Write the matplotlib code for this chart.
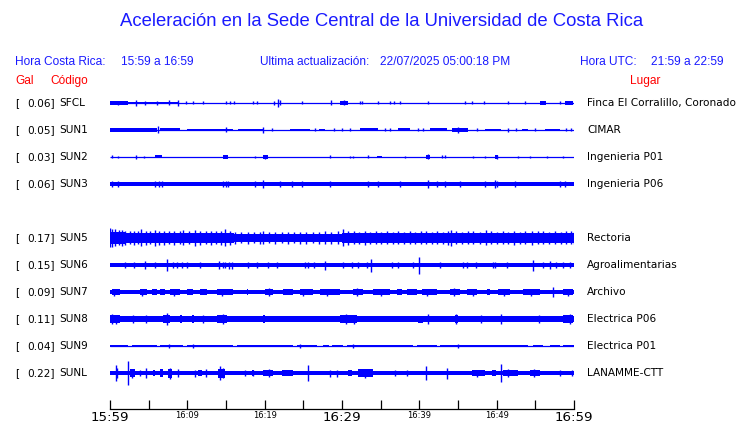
import matplotlib
matplotlib.use('Agg')
import matplotlib.pyplot as plt

# Estaciones (de arriba hacia abajo)
codes = ['SFCL', 'SUN1', 'SUN2', 'SUN3', 'SUN5', 'SUN6', 'SUN7', 'SUN8', 'SUN9', 'SUNL']
gals = [0.06, 0.05, 0.03, 0.06, 0.17, 0.15, 0.09, 0.11, 0.04, 0.22]
places = ['Finca El Corralillo, Coronado', 'CIMAR', 'Ingenieria P01', 'Ingenieria P06',
          'Rectoria', 'Agroalimentarias', 'Archivo', 'Electrica P06', 'Electrica P01', 'LANAMME-CTT']
row_slot = [0, 1, 2, 3, 5, 6, 7, 8, 9, 10]   # SUN4 no aparece -> hueco

# eje de tiempo (minutos desde 15:59)
tick_minutes = list(range(0, 61, 5))
tick_labels = ['15:59', '', '16:09', '', '16:19', '', '16:29', '', '16:39', '', '16:49', '', '16:59']
big_labels = ['15:59', '16:29', '16:59']

# Trazas: bandas (inicio, fin, semi-amplitud) y picos (minuto, semi-amplitud)
sfcl_bands = [(0, 2.3, 1.8), (2.3, 8.8, 1.2), (29.8, 30.8, 2.0), (55.6, 56.4, 1.8), (58.9, 59.9, 1.6)]
sfcl_spikes = [(1.0, 2.2), (3.4, 3), (4.5, 2), (6.1, 2.2), (7.6, 2.5), (8.8, 3), (9.8, 1.5), (10.7, 1.5),
               (12.0, 1.5), (15.0, 1.5), (15.5, 1.5), (16.0, 1.5), (18.5, 1.5), (19.0, 1.5), (21.2, 2),
               (21.7, 4), (22.0, 2.5), (24.8, 1.5), (28.6, 2.5), (30.3, 2.5), (32.3, 1.5), (32.6, 1.5),
               (34.7, 1.5), (36.2, 1.5), (36.7, 1.5), (37.5, 1.5), (41.1, 1.5), (45.9, 1.5), (46.8, 1.5),
               (48.4, 1.5), (51.5, 1.5), (53.6, 1.5), (58.2, 1.5)]

sun1_bands = [(0, 6.1, 1.8), (6.5, 9.1, 1.5), (10, 15.9, 1.3), (16.6, 19.8, 1.3), (23.3, 25.9, 1.0),
              (27.0, 27.8, 1.2), (32.3, 34.7, 1.5), (37.3, 38.8, 1.5), (41.4, 43.6, 1.5), (44.2, 46.3, 2.2),
              (48.5, 50.5, 1.3), (53.3, 54.0, 1.3), (56.3, 58.2, 1.3)]
sun1_spikes = [(6.2, 3.5), (15.0, 2.5), (19.8, 3.0), (21.0, 1.5), (26.5, 1.5), (29.0, 1.5), (30.0, 1.5),
               (31.0, 1.5), (35.5, 1.5), (36.2, 1.5), (39.8, 1.5), (40.5, 1.5), (45.0, 2.8), (47.5, 1.5),
               (51.5, 2.0), (52.5, 1.5), (55.0, 1.5), (59.0, 1.5), (59.6, 1.5)]

sun2_bands = [(5.8, 6.7, 1.5), (14.6, 15.3, 1.8), (19.8, 20.4, 2.0), (34.5, 35.2, 1.3), (40.8, 41.4, 2.0),
              (49.8, 50.2, 2.0)]
sun2_spikes = [(0.3, 1.5), (1.0, 1.3), (3.4, 1.8), (4.4, 1.3), (18.8, 1.3), (20.1, 2.3), (28.5, 1.5),
               (31.0, 1.3), (31.4, 1.3), (33.4, 1.5), (38.2, 1.3), (41.1, 2.5), (42.9, 1.5), (43.3, 1.5),
               (47.0, 1.3), (48.5, 1.3), (50.0, 2.3), (52.8, 1.3), (54.3, 1.3), (56.5, 1.3), (58.6, 1.3)]

sun3_bands = [(0, 60, 2.0), (58.2, 60, 2.4)]
sun3_spikes = [(0.3, 2.6), (1.0, 2.6), (5.8, 3), (6.3, 3), (6.7, 2.8), (14.6, 3.2), (15.0, 3.2), (15.3, 3),
               (18.8, 2.8), (19.8, 3.8), (22.0, 2.6), (23.5, 2.6), (24.8, 2.6), (28.5, 2.6), (33.4, 2.6),
               (34.7, 2.8), (37.5, 2.6), (41.1, 3.6), (42.3, 3.0), (43.3, 2.6), (45.3, 2.6), (48.5, 2.6),
               (49.8, 4.2), (50.1, 3.0), (52.4, 2.6), (58.2, 2.6), (58.9, 2.6)]

sun5_bands = [(0, 2, 6.0), (2, 16, 4.8), (16, 30, 4.3), (30, 60, 4.6)]
sun5_spikes = [(0.0, 9.5), (0.3, 9.0), (0.7, 8.5), (1.1, 7.5), (1.5, 8.0), (2.0, 7.0), (2.6, 6.5), (3.1, 7.0),
               (3.6, 6.5), (4.0, 8.5), (4.6, 7.0), (5.2, 6.5), (5.8, 8.0), (6.4, 7.0), (7.0, 7.0), (7.6, 6.5),
               (8.3, 7.0), (9.0, 6.5), (9.5, 7.5), (10.2, 6.5), (11.0, 8.0), (11.7, 7.0), (12.4, 6.5),
               (13.0, 7.0), (13.7, 6.5), (14.4, 7.0), (14.9, 8.5), (15.5, 7.0), (16.2, 6.0), (17.0, 5.5),
               (17.8, 6.0), (18.6, 5.5), (19.4, 6.0), (19.8, 6.5), (20.6, 5.5), (21.4, 6.0), (22.2, 5.5),
               (23.0, 6.0), (23.8, 5.5), (24.6, 6.0), (25.4, 6.0), (26.2, 5.5), (27.0, 6.0), (27.8, 6.5),
               (28.6, 6.0), (29.5, 6.5), (30.1, 8.5), (30.8, 7.0), (31.5, 6.5), (32.2, 6.0), (33.0, 7.0),
               (33.6, 6.0), (34.4, 6.5), (35.1, 6.0), (35.8, 6.5), (36.6, 6.0), (37.3, 6.5), (38.0, 6.0),
               (38.8, 6.5), (39.5, 6.0), (40.2, 6.5), (40.9, 6.5), (41.6, 6.0), (42.3, 6.5), (43.0, 6.0),
               (43.7, 7.0), (44.1, 8.0), (44.8, 6.5), (45.5, 6.0), (46.3, 6.5), (47.0, 6.5), (47.8, 6.0),
               (48.6, 7.5), (49.3, 6.5), (50.0, 6.0), (50.8, 6.5), (51.5, 6.0), (52.2, 7.0), (53.0, 6.0),
               (53.7, 6.5), (54.6, 7.0), (55.3, 6.5), (56.0, 6.5), (56.8, 6.0), (57.5, 6.5), (58.3, 6.0),
               (59.0, 6.5), (59.6, 6.5), (60.0, 6.0)]

sun6_bands = [(0, 60, 2.2)]
sun6_spikes = [(1.9, 3), (3.1, 3), (4.5, 4.3), (5.8, 3), (7.4, 6), (8.2, 3.3), (8.6, 3.3), (9.3, 3),
               (9.96, 3.3), (11.6, 3), (14.1, 4), (14.6, 3), (14.9, 3), (15.4, 3.5), (15.8, 3.5), (17.9, 3),
               (19.0, 3.3), (20.4, 3), (21.6, 3), (25.2, 3.3), (25.6, 3.3), (26.4, 3.3), (27.8, 4.5),
               (30.1, 3), (31.3, 3.3), (32.1, 3.3), (33.2, 3.3), (33.8, 6.5), (36.5, 3), (37.3, 3),
               (39.2, 3.3), (39.97, 8.5), (42.7, 3), (45.7, 3), (46.1, 3), (47.3, 3), (49.5, 3.3),
               (49.8, 3.3), (51.4, 3), (54.7, 5.5), (56.0, 3), (56.9, 3.8), (57.7, 3.3), (58.6, 3.3),
               (59.5, 3.3)]

sun7_bands = [(0, 60, 2.0), (0.3, 1.3, 2.9), (3.9, 4.8, 2.9), (5.4, 6.1, 2.9), (6.5, 7.1, 2.9),
              (7.8, 9.1, 2.9), (10.0, 10.7, 2.9), (11.6, 12.5, 2.9), (13.8, 15.9, 2.9), (17.7, 17.9, 2.9),
              (20.1, 21.1, 3.3), (22.4, 23.7, 2.9), (24.6, 26.3, 2.9), (27.2, 29.8, 2.9), (31.4, 32.7, 3.3),
              (34.0, 36.2, 2.9), (37.1, 37.8, 3.1), (38.4, 39.7, 2.9), (40.4, 42.3, 2.9), (44.0, 45.3, 3.3),
              (46.2, 47.5, 2.9), (48.8, 49.2, 2.9), (50.2, 51.7, 2.9), (53.4, 55.6, 2.9), (58.6, 59.9, 2.9)]
sun7_spikes = [(0.5, 3.5), (4.2, 3.5), (8.3, 3.5), (14.5, 3.5), (20.5, 4), (25.0, 3.5), (28.0, 3.5),
               (32.0, 4), (35.0, 3.5), (41.0, 3.5), (44.5, 4.2), (47.0, 3.5), (51.0, 3.5), (54.5, 3.5),
               (57.3, 4.8), (59.2, 3.5)]

sun8_bands = [(0, 60, 2.6), (0, 1.3, 4.0), (2.2, 5.6, 3.2), (6.9, 7.8, 4.2), (9.1, 9.3, 3.6), (10.6, 10.8, 3.8),
              (11.6, 12.5, 3.3), (13.8, 15.1, 3.6), (16.0, 16.8, 3.1), (19.8, 20.0, 3.6), (21.6, 22.4, 3.1),
              (24.6, 24.8, 3.1), (26.8, 27.0, 3.1), (28.8, 29.8, 3.4), (29.8, 32.0, 3.8), (34.7, 34.9, 3.1),
              (39.8, 40.5, 3.5), (44.6, 45.0, 3.8), (46.6, 49.2, 3.2), (50.5, 50.7, 3.8), (50.8, 52.7, 3.2),
              (54.3, 56.5, 3.3), (58.6, 59.9, 3.7)]
sun8_spikes = [(0.3, 5.2), (0.8, 4.5), (3.0, 4.0), (4.6, 4.0), (7.4, 6.2), (12.0, 4.0), (14.6, 4.8),
               (30.5, 5.0), (31.5, 4.5), (41.1, 5.2), (44.8, 4.8), (48.0, 4.0), (50.5, 4.8), (55.5, 4.2),
               (59.5, 4.8)]

sun9_bands = [(0, 2.3, 1.2), (2.8, 6.1, 1.2), (6.5, 9.4, 1.2), (10.0, 15.9, 1.2), (16.4, 23.7, 1.2),
              (24.2, 26.8, 1.2), (27.6, 28.3, 1.2), (28.7, 30.1, 1.2), (30.7, 39.2, 1.2), (39.7, 42.3, 1.2),
              (42.7, 54.0, 1.2), (54.7, 56.0, 1.2), (56.9, 58.2, 1.2), (58.6, 60, 1.2)]
sun9_spikes = [(7.6, 1.8), (10.7, 1.8), (24.6, 1.8), (31.4, 1.8), (45.0, 1.6)]

sunl_bands = [(0, 60, 2.3), (2.6, 3.2, 4.0), (5.5, 5.8, 3.1), (6.5, 6.9, 3.8), (7.5, 8.0, 4.5),
              (11.4, 11.9, 3.1), (14.0, 14.9, 4.5), (18.4, 18.6, 2.8), (19.8, 21.1, 3.3), (22.3, 23.7, 3.0),
              (30.8, 31.3, 3.4), (32.1, 34.0, 3.8), (46.8, 48.5, 3.0), (49.4, 49.9, 3.4), (50.8, 52.7, 3.4),
              (54.3, 55.6, 3.2)]
sunl_spikes = [(0.8, 8.3), (0.9, 5), (2.3, 12), (2.9, 4.5), (3.9, 3), (4.7, 5), (7.8, 5.5), (8.8, 4),
               (11.0, 3.5), (12.4, 4), (14.2, 7), (14.6, 5), (17.5, 3), (18.5, 3.3), (20.5, 4), (25.6, 8.3),
               (28.5, 3.5), (29.4, 3.5), (33.0, 4.5), (36.9, 3), (38.4, 3), (40.8, 6.7), (43.6, 5.5),
               (47.5, 3.5), (50.6, 9), (51.5, 4), (54.8, 3.8), (58.2, 3), (59.7, 3)]

all_bands = [sfcl_bands, sun1_bands, sun2_bands, sun3_bands, sun5_bands,
             sun6_bands, sun7_bands, sun8_bands, sun9_bands, sunl_bands]
all_spikes = [sfcl_spikes, sun1_spikes, sun2_spikes, sun3_spikes, sun5_spikes,
              sun6_spikes, sun7_spikes, sun8_spikes, sun9_spikes, sunl_spikes]

# Estilos
AZUL = '#0000ff'
AZUL_TXT = '#1a1aff'
ROJO = '#ff0000'
ROW_H = 27   # separacion entre trazas

W, H = 740, 423
fig = plt.figure(figsize=(W / 100, H / 100), dpi=100)
fig.patch.set_facecolor('white')

def fy(py):
    # pixel vertical -> coordenada de figura
    return 1 - py / H

# --- trazas ---
ax = fig.add_axes([110 / W, fy(103 + 10.5 * ROW_H), 464 / W, 11 * ROW_H / H])
ax.set_xlim(0, 60)
ax.set_ylim(10.5 * ROW_H, -0.5 * ROW_H)
ax.axis('off')

for slot, bands, spikes in zip(row_slot, all_bands, all_spikes):
    c = slot * ROW_H
    ax.hlines(c, 0, 60, color=AZUL, lw=0.9)
    for s, e, h in bands:
        ax.broken_barh([(s, e - s)], (c - h, 2 * h), facecolor=AZUL, edgecolor='none')
    if spikes:
        xs = [p[0] for p in spikes]
        hs = [p[1] for p in spikes]
        ax.vlines(xs, [c - h for h in hs], [c + h for h in hs], color=AZUL, lw=1.0)

# --- eje de tiempo ---
axt = fig.add_axes([110 / W, fy(409), 464 / W, 0.01])
axt.set_xlim(0, 60)
axt.set_yticks([])
for side in ['top', 'left', 'right']:
    axt.spines[side].set_visible(False)
axt.spines['bottom'].set_linewidth(0.9)
axt.patch.set_visible(False)
axt.set_xticks(tick_minutes)
axt.set_xticklabels(tick_labels)
axt.tick_params(axis='x', direction='in', length=6.5, width=0.9, pad=1.5)
for lab in axt.get_xticklabels():
    if lab.get_text() in big_labels:
        lab.set_fontsize(9.6)
    else:
        lab.set_fontsize(6)

# --- textos ---
sans = 'Liberation Sans'
fig.text(382 / W, fy(22), 'Aceleración en la Sede Central de la Universidad de Costa Rica',
         ha='center', va='center', color=AZUL_TXT, fontsize=13.3, family=sans)

hdr = 8.6
fig.text(15 / W, fy(62), 'Hora Costa Rica:', ha='left', va='center', color=AZUL_TXT, fontsize=hdr, family=sans)
fig.text(121 / W, fy(62), '15:59 a 16:59', ha='left', va='center', color=AZUL_TXT, fontsize=hdr, family=sans)
fig.text(260 / W, fy(62), 'Ultima actualización:', ha='left', va='center', color=AZUL_TXT, fontsize=hdr, family=sans)
fig.text(380 / W, fy(62), '22/07/2025 05:00:18 PM', ha='left', va='center', color=AZUL_TXT, fontsize=hdr, family=sans)
fig.text(580 / W, fy(62), 'Hora UTC:', ha='left', va='center', color=AZUL_TXT, fontsize=hdr, family=sans)
fig.text(724 / W, fy(62), '21:59 a 22:59', ha='right', va='center', color=AZUL_TXT, fontsize=hdr, family=sans)

fig.text(15 / W, fy(81), 'Gal', ha='left', va='center', color=ROJO, fontsize=hdr, family=sans)
fig.text(50 / W, fy(81), 'Código', ha='left', va='center', color=ROJO, fontsize=hdr, family=sans)
fig.text(630 / W, fy(81), 'Lugar', ha='left', va='center', color=ROJO, fontsize=hdr, family=sans)

lab_fs = 7.6
for slot, code, g, place in zip(row_slot, codes, gals, places):
    py = 103 + slot * ROW_H
    fig.text(15 / W, fy(py), '[', ha='left', va='center', fontsize=lab_fs, color='black')
    fig.text(54.5 / W, fy(py), f'{g:.2f}]', ha='right', va='center', fontsize=lab_fs, color='black')
    fig.text(59 / W, fy(py), code, ha='left', va='center', fontsize=lab_fs, color='black')
    fig.text(587 / W, fy(py), place, ha='left', va='center', fontsize=lab_fs, color='black')

fig.savefig('out.png', dpi=100, facecolor='white')
plt.close(fig)
